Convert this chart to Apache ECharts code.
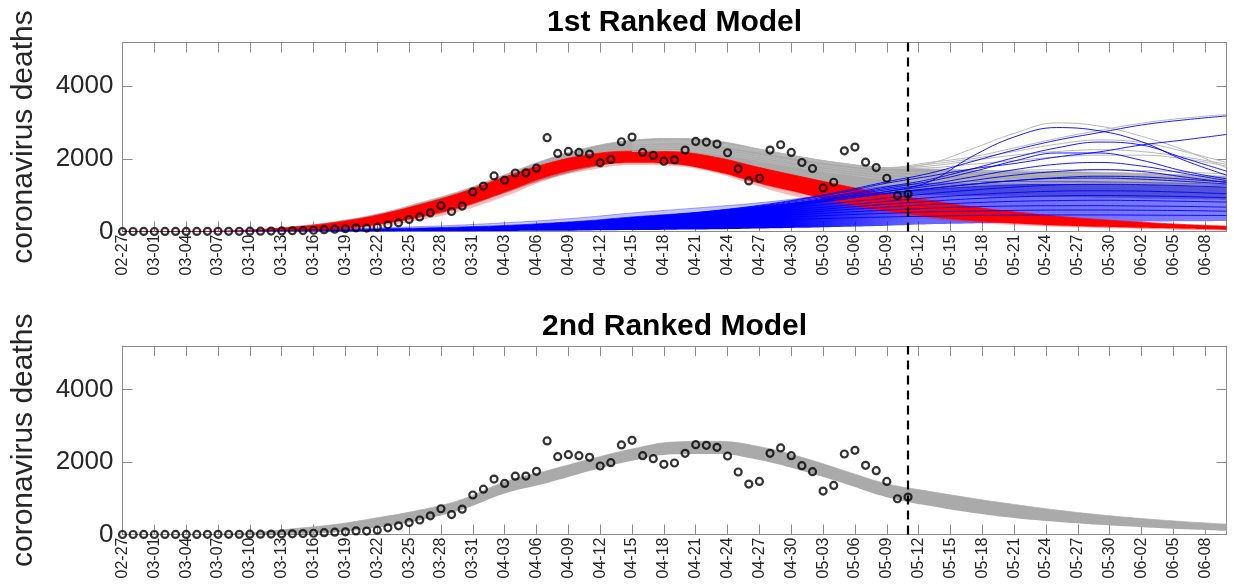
<!DOCTYPE html>
<html>
<head>
<meta charset="utf-8">
<title>coronavirus deaths – ranked models</title>
<script src="https://cdn.jsdelivr.net/npm/echarts@6/dist/echarts.min.js"></script>
<style>
  html, body { margin: 0; padding: 0; background: #fff; }
  #chart { width: 1234px; height: 585px; }
</style>
</head>
<body>
<div id="chart"></div>
<script>
// ---- daily axis: 2020-02-27 .. 2020-06-10 ----
const startDay = Date.UTC(2020, 1, 27);
const dayCount = 105;
const dates = Array.from({ length: dayCount }, (_, i) => {
  const d = new Date(startDay + i * 86400000);
  return String(d.getUTCMonth() + 1).padStart(2, '0') + '-' + String(d.getUTCDate()).padStart(2, '0');
});
const forecastStartDay = 74;   // 05-11, last observed day

// ---- observed daily deaths (02-27 .. 05-11) ----
const observed = [
  0, 0, 1, 0, 1, 1, 2, 3, 4, 5, 6, 6, 9, 10, 12, 15, 20, 25, 35, 50,
  65, 75, 100, 95, 120, 185, 240, 330, 400, 515, 710, 550, 700, 1090, 1250, 1530, 1410, 1610, 1613, 1742,
  2581, 2147, 2203, 2175, 2129, 1889, 1982, 2470, 2599, 2175, 2092, 1935, 1972, 2240, 2479, 2461, 2406, 2166, 1724, 1392,
  1465, 2240, 2387, 2175, 1899, 1733, 1198, 1355, 2221, 2323, 1908, 1760, 1465, 986, 1032
];

// ---- ensemble envelopes, sampled every 4 days ----
const bandDays = [0, 4, 8, 12, 16, 20, 24, 28, 32, 36, 40, 44, 48, 52, 56, 60, 64, 68, 72, 76, 80, 84, 88, 92, 96, 100, 104];

// 1st ranked model: total (gray)
const m1TotalLo = [0, 0, 0, 0, 15, 55, 180, 380, 650, 1050, 1450, 1750, 1950, 2000, 1900, 1700, 1450, 1250, 1040, 1000, 980, 960, 950, 930, 910, 890, 870];
const m1TotalHi = [0, 0, 3, 40, 130, 270, 480, 790, 1130, 1560, 1990, 2320, 2510, 2560, 2490, 2270, 2050, 1870, 1750, 1720, 1690, 1660, 1650, 1630, 1600, 1560, 1520];
// 1st ranked model: first wave (red)
const m1WaveAHi = [0, 0, 3, 40, 120, 250, 450, 740, 1080, 1500, 1872, 2119, 2211, 2193, 2037, 1761, 1505, 1257, 1028, 862, 679, 541, 422, 330, 257, 193, 147];
const m1WaveALo = [0, 0, 0, 5, 18, 55, 190, 400, 680, 1080, 1505, 1780, 1890, 1853, 1642, 1321, 1046, 771, 569, 404, 294, 220, 165, 128, 100, 73, 46];
const m1WaveAFringe = [0, 0, 0, 0, 8, 40, 140, 310, 570, 960, 1420, 1690, 1830, 1800, 1600, 1230, 920, 680, 490, 350, 250, 180, 130, 95, 70, 50, 32];
// 1st ranked model: second wave (blue)
const m1WaveBLo = [0, 0, 0, 0, 0, 0, 0, 5, 10, 15, 20, 30, 40, 50, 60, 80, 100, 130, 160, 200, 220, 240, 250, 260, 270, 280, 290];
const m1WaveBHi = [0, 0, 0, 15, 30, 50, 70, 95, 125, 165, 225, 300, 400, 480, 570, 690, 800, 930, 1060, 1150, 1230, 1280, 1300, 1300, 1290, 1270, 1250];
const m1WaveBFringe = [0, 0, 0, 18, 40, 70, 100, 135, 180, 240, 310, 400, 510, 600, 690, 790, 920, 1080, 1250, 1320, 1360, 1380, 1380, 1370, 1350, 1330, 1300];

// 2nd ranked model: total (gray)
const m2TotalLo = [0, 0, 0, 0, 18, 65, 194, 396, 691, 1130, 1420, 1751, 2037, 2212, 2221, 2055, 1760, 1410, 1030, 790, 600, 455, 350, 267, 203, 147, 101];
const m2TotalHi = [0, 0, 2, 45, 157, 276, 461, 673, 968, 1450, 1760, 2074, 2359, 2553, 2571, 2424, 2129, 1760, 1400, 1190, 1000, 830, 675, 545, 440, 355, 286];

// ---- individual runs of the 1st ranked model that fan out after the fit ----
const spreadDays = [48, 52, 56, 60, 64, 68, 72, 76, 80, 84, 88, 92, 96, 100, 104];
const totalRuns = [
  [2460, 2500, 2420, 2250, 2040, 1870, 1740, 1870, 2270, 2700, 2990, 2900, 2620, 2240, 1750],
  [2450, 2490, 2410, 2230, 2020, 1860, 1760, 1900, 2050, 2300, 2560, 2780, 2980, 3120, 3220],
  [2440, 2480, 2400, 2220, 2010, 1850, 1750, 1850, 2000, 2200, 2400, 2520, 2450, 2200, 1900],
  [2420, 2460, 2380, 2200, 2000, 1840, 1740, 1800, 1950, 2100, 2200, 2250, 2200, 2050, 1850],
  [2400, 2440, 2360, 2180, 1990, 1830, 1730, 1750, 1850, 1950, 2050, 2100, 2100, 2000, 1800],
  [2350, 2380, 2290, 2100, 1900, 1750, 1650, 1620, 1640, 1680, 1700, 1700, 1680, 1640, 1580],
  [2300, 2330, 2240, 2050, 1860, 1700, 1580, 1540, 1540, 1560, 1570, 1570, 1550, 1510, 1460],
  [2250, 2280, 2190, 2000, 1800, 1640, 1500, 1440, 1420, 1420, 1420, 1410, 1390, 1360, 1320],
  [2200, 2230, 2140, 1950, 1750, 1580, 1440, 1380, 1350, 1340, 1330, 1320, 1300, 1270, 1240]
];
const waveBRuns = [
  [330, 420, 530, 650, 800, 950, 1100, 1370, 2060, 2600, 2860, 2770, 2470, 1960, 1550],
  [360, 460, 580, 720, 900, 1120, 1370, 1600, 1920, 2240, 2510, 2720, 2930, 3070, 3180],
  [350, 450, 570, 700, 880, 1090, 1330, 1520, 1720, 1870, 2050, 2190, 2380, 2520, 2670],
  [340, 440, 550, 680, 850, 1030, 1230, 1430, 1720, 2030, 2300, 2460, 2380, 2020, 1660],
  [330, 430, 540, 660, 820, 1000, 1190, 1380, 1640, 1940, 2160, 2160, 1960, 1660, 1450],
  [320, 420, 520, 640, 800, 970, 1150, 1300, 1500, 1700, 1850, 1900, 1800, 1600, 1400],
  [310, 410, 510, 620, 770, 930, 1100, 1250, 1400, 1550, 1650, 1700, 1650, 1500, 1350],
  [300, 400, 500, 600, 740, 890, 1050, 1180, 1300, 1400, 1480, 1520, 1500, 1440, 1360],
  [310, 410, 510, 620, 760, 900, 1040, 1180, 1300, 1400, 1460, 1470, 1440, 1380, 1310],
  [290, 380, 470, 560, 680, 800, 920, 1040, 1140, 1220, 1280, 1300, 1290, 1260, 1220],
  [270, 360, 440, 520, 620, 720, 830, 930, 1010, 1070, 1110, 1120, 1110, 1080, 1040],
  [250, 330, 410, 480, 570, 660, 750, 830, 900, 950, 980, 990, 980, 960, 930],
  [230, 310, 380, 440, 520, 600, 670, 740, 790, 830, 850, 860, 850, 830, 810],
  [210, 280, 340, 400, 470, 530, 590, 640, 680, 700, 710, 710, 700, 690, 670],
  [190, 250, 310, 360, 410, 460, 500, 540, 560, 580, 590, 590, 585, 575, 560],
  [160, 210, 260, 300, 340, 370, 400, 420, 440, 450, 455, 455, 450, 445, 440]
];

const panelTitles = ['1st Ranked Model', '2nd Ranked Model'];
const yTitle = 'coronavirus deaths';

// ---- styling ----
const FONT = "'Liberation Sans', Arial, Helvetica, sans-serif";
const AXIS_COLOR = '#8a8a8a';
const TEXT_COLOR = '#262626';
const GRAY = '#aaaaaa';
const RED = '#ff0000';
const BLUE = '#0000ff';

const pairs = (days, vals) => days.map((d, i) => [d, vals[i]]);

// A band is a transparent lower line with the (hi - lo) thickness stacked on it.
function band(id, days, lo, hi, fill, lineColor, lineOpacity, axisIdx, z) {
  const base = {
    type: 'line', xAxisIndex: axisIdx, yAxisIndex: axisIdx, stack: id,
    smooth: 0.4, symbol: 'none', silent: true, z: z, animation: false
  };
  return [
    Object.assign({}, base, { name: id + '-lo', data: pairs(days, lo), lineStyle: { width: 0, opacity: 0 } }),
    Object.assign({}, base, {
      name: id, data: days.map((d, i) => [d, Math.max(0, hi[i] - lo[i])]),
      lineStyle: { color: lineColor, width: 0.7, opacity: lineOpacity },
      areaStyle: { color: fill, opacity: 1 }
    })
  ];
}

function runLine(vals, color, width, axisIdx, z) {
  return {
    type: 'line', xAxisIndex: axisIdx, yAxisIndex: axisIdx, data: pairs(spreadDays, vals),
    smooth: 0.4, symbol: 'none', silent: true, z: z, animation: false,
    lineStyle: { color: color, width: width }
  };
}

function observedSeries(axisIdx) {
  return {
    type: 'scatter', xAxisIndex: axisIdx, yAxisIndex: axisIdx, data: observed,
    symbol: 'circle', symbolSize: 7, z: 10, silent: true, animation: false,
    itemStyle: { color: 'rgba(0,0,0,0)', borderColor: '#000', borderWidth: 2.2 },
    markLine: {
      silent: true, symbol: ['none', 'none'], label: { show: false }, animation: false,
      lineStyle: { color: '#000', type: [9, 6], width: 2.2 },
      data: [{ xAxis: dates[forecastStartDay] }]
    }
  };
}

const grids = [
  { left: 122.5, top: 42.5, width: 1104, height: 189, outerBoundsMode: 'none' },
  { left: 122.5, top: 346, width: 1104, height: 188.5, outerBoundsMode: 'none' }
];

function xAxes(gridIndex) {
  const common = {
    type: 'category', gridIndex: gridIndex, data: dates, boundaryGap: false,
    axisLine: { show: true, onZero: false, lineStyle: { color: AXIS_COLOR, width: 1 } },
    axisTick: { show: true, inside: true, length: 10, interval: 2, lineStyle: { color: AXIS_COLOR, width: 1 } },
    splitLine: { show: false }
  };
  return [
    Object.assign({}, common, {
      position: 'bottom',
      axisLabel: { show: true, interval: 2, rotate: 90, margin: 3, fontSize: 16, fontFamily: FONT, color: TEXT_COLOR }
    }),
    Object.assign({}, common, { position: 'top', axisLabel: { show: false } })
  ];
}

function yAxes(gridIndex) {
  const common = {
    type: 'value', gridIndex: gridIndex, min: 0, max: 5200, interval: 2000,
    axisLine: { show: true, onZero: false, lineStyle: { color: AXIS_COLOR, width: 1 } },
    axisTick: { show: true, inside: true, length: 10, lineStyle: { color: AXIS_COLOR, width: 1 } },
    splitLine: { show: false }
  };
  return [
    Object.assign({}, common, {
      position: 'left',
      name: yTitle, nameLocation: 'middle', nameGap: 84,
      nameTextStyle: { fontSize: 30, fontFamily: FONT, color: TEXT_COLOR },
      axisLabel: {
        show: true, margin: 9, fontSize: 26, fontFamily: FONT, color: TEXT_COLOR,
        formatter: v => (v % 2000 === 0 ? String(v) : '')
      }
    }),
    Object.assign({}, common, { position: 'right', axisLabel: { show: false } })
  ];
}

// Second-wave fill: solid while fitted to data, thinner once the runs fan out.
const blueFill = new echarts.graphic.LinearGradient(0, 0, 1, 0, [
  { offset: 0, color: 'rgba(0,0,255,1)' },
  { offset: 0.6, color: 'rgba(0,0,255,1)' },
  { offset: 0.72, color: 'rgba(0,0,255,0.6)' },
  { offset: 1, color: 'rgba(0,0,255,0.5)' }
]);
const blueFringeFill = new echarts.graphic.LinearGradient(0, 0, 1, 0, [
  { offset: 0, color: 'rgba(40,40,255,0.22)' },
  { offset: 0.7, color: 'rgba(40,40,255,0.3)' },
  { offset: 1, color: 'rgba(40,40,255,0.25)' }
]);

const series = [];
// top panel: total band, second wave, first wave, then the spread runs
series.push(...band('m1-total', bandDays, m1TotalLo, m1TotalHi, GRAY, GRAY, 1, 0, 2));
series.push(...band('m1-b-fringe', bandDays, m1WaveBHi, m1WaveBFringe, blueFringeFill, BLUE, 0.5, 0, 2));
series.push(...band('m1-b', bandDays, m1WaveBLo, m1WaveBHi, blueFill, BLUE, 1, 0, 2));
series.push(...band('m1-a-fringe', bandDays, m1WaveAFringe, m1WaveALo, 'rgba(255,0,0,0.28)', RED, 0.45, 0, 2));
series.push(...band('m1-a', bandDays, m1WaveALo, m1WaveAHi, RED, RED, 1, 0, 2));
totalRuns.forEach(r => series.push(runLine(r, '#b8b8b8', 1, 0, 3)));
waveBRuns.forEach(r => series.push(runLine(r, BLUE, 0.9, 0, 4)));
series.push(observedSeries(0));
// bottom panel
series.push(...band('m2-total', bandDays, m2TotalLo, m2TotalHi, GRAY, GRAY, 1, 2, 2));
series.push(observedSeries(2));

const option = {
  animation: false,
  backgroundColor: '#ffffff',
  textStyle: { fontFamily: FONT },
  grid: grids,
  xAxis: [...xAxes(0), ...xAxes(1)],
  yAxis: [...yAxes(0), ...yAxes(1)],
  graphic: panelTitles.map((t, i) => ({
    type: 'text', x: 674.6, y: i === 0 ? 23 : 327, silent: true,
    style: {
      text: t, fill: '#000', font: 'bold 30px ' + FONT,
      textAlign: 'center', textVerticalAlign: 'middle'
    }
  })),
  series: series
};

const chart = echarts.init(document.getElementById('chart'), null, { renderer: 'canvas' });
chart.setOption(option);
</script>
</body>
</html>
